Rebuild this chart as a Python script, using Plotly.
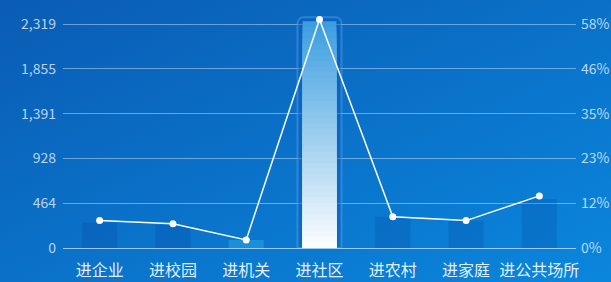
import base64
import plotly.graph_objects as go

categories = ["进企业", "进校园", "进机关", "进社区", "进农村", "进家庭", "进公共场所"]
counts = [262, 238, 83, 2319, 324, 283, 507]
shares = [0.071, 0.063, 0.021, 0.592, 0.081, 0.071, 0.135]
left_max = 2319
right_max = 0.58
highlight = "进社区"

left_ticks = [left_max * i / 5 for i in range(6)]
left_text = [f"{round(v):,}" for v in left_ticks]
right_ticks = [right_max * i / 5 for i in range(6)]
right_text = [f"{round(v * 100)}%" for v in right_ticks]

headroom = 1.036  # extra space above top tick so the highlight frame is not clipped

svg = ('<svg xmlns="http://www.w3.org/2000/svg" width="611" height="282" preserveAspectRatio="none">'
       '<defs><linearGradient id="g" x1="0" y1="0" x2="1" y2="1">'
       '<stop offset="0" stop-color="#0a58b0"/><stop offset="1" stop-color="#0a8ae0"/>'
       '</linearGradient></defs><rect width="611" height="282" fill="url(#g)"/></svg>')
bg_uri = "data:image/svg+xml;base64," + base64.b64encode(svg.encode()).decode()

fig = go.Figure()

hi_idx = categories.index(highlight)
hi_val = counts[hi_idx]

# outline box around highlighted bar
fig.add_trace(go.Bar(
    x=[highlight], y=[hi_val * 1.03], width=0.6,
    marker=dict(color="rgba(15,90,190,0.45)", cornerradius=6,
                line=dict(color="rgba(100,175,240,0.4)", width=2)),
    hoverinfo="skip", showlegend=False))

# normal bars
norm_x = [c for c in categories if c != highlight]
norm_y = [v for c, v in zip(categories, counts) if c != highlight]
norm_col = ["rgba(40,170,230,0.5)" if c == "进机关" else "rgba(0,60,150,0.2)" for c in norm_x]
fig.add_trace(go.Bar(
    x=norm_x, y=norm_y, width=0.48,
    marker=dict(color=norm_col, line=dict(width=0)),
    showlegend=False))

# gradient highlighted bar (overlaid segments)
N = 40
top = (60, 158, 224)
bot = (255, 255, 255)
for k in range(N):
    t = 1 - k / N
    col = tuple(round(bot[i] + (top[i] - bot[i]) * t) for i in range(3))
    fig.add_trace(go.Bar(
        x=[highlight], y=[hi_val * 1.012 * t], width=0.46,
        marker=dict(color=f"rgb{col}", line=dict(width=0)),
        hoverinfo="skip", showlegend=False))

# share line
fig.add_trace(go.Scatter(
    x=categories, y=shares, yaxis="y2", mode="lines+markers",
    line=dict(color="white", width=1.5),
    marker=dict(color="white", size=7),
    cliponaxis=False, showlegend=False))

tick_font = dict(family="Noto Sans CJK SC", size=14, color="rgba(255,255,255,0.72)")

fig.update_layout(
    width=611, height=282,
    margin=dict(l=63, r=35, t=16, b=34, autoexpand=False),
    paper_bgcolor="#0a6fc8", plot_bgcolor="rgba(0,0,0,0)",
    barmode="overlay",
    images=[dict(source=bg_uri, xref="paper", yref="paper", x=-0.2, y=1.2,
                 sizex=1.4, sizey=1.4, sizing="stretch", layer="below")],
    xaxis=dict(categoryorder="array", categoryarray=categories,
               showgrid=False, zeroline=False, showline=True, automargin=False,
               linecolor="rgba(255,255,255,0.6)", linewidth=1,
               ticks="", ticklabelstandoff=8,
               tickfont=dict(family="Noto Sans CJK SC", size=16,
                             color="rgba(255,255,255,0.9)")),
    yaxis=dict(range=[0, left_max * headroom], tickvals=left_ticks, ticktext=left_text,
               showgrid=True, gridcolor="rgba(255,255,255,0.4)", gridwidth=1,
               zeroline=False, showline=False, ticks="", ticklabelstandoff=6,
               automargin=False, tickfont=tick_font),
    yaxis2=dict(range=[0, right_max * headroom], tickvals=right_ticks, ticktext=right_text,
                overlaying="y", side="right", showgrid=False, zeroline=False,
                showline=False, ticks="", ticklabelstandoff=4, automargin=False,
                tickfont=tick_font),
    font=dict(family="Noto Sans CJK SC"),
)

fig.write_html("out.html", config={"displayModeBar": False},
               post_script="document.body.style.margin='0';document.body.style.overflow='hidden';")
